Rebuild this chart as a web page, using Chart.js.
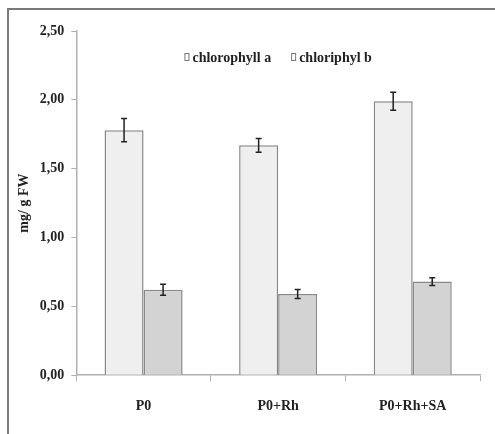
<!DOCTYPE html>
<html>
<head>
<meta charset="utf-8">
<script src="https://cdn.jsdelivr.net/npm/chart.js@4"></script>
<style>
  html, body { margin: 0; padding: 0; background: #fff; }
  #wrap { position: relative; width: 495px; height: 434px; }
</style>
</head>
<body>
<div id="wrap"><canvas id="chart" width="495" height="434"></canvas></div>
<script>
const categories = ["P0", "P0+Rh", "P0+Rh+SA"];
const seriesNames = ["chlorophyll a", "chloriphyl b"];
const chlA = [1.78, 1.67, 1.99];
const chlB = [0.62, 0.59, 0.68];
const errA = [0.085, 0.05, 0.065];
const errB = [0.04, 0.033, 0.028];
const yTicks = [0, 0.5, 1, 1.5, 2, 2.5];

const FONT = "'Liberation Serif', 'Times New Roman', serif";
const $ = (s) => document.querySelector(s);

// thin frame like the scanned figure (top + left edge only)
const framePlugin = {
  id: "frame",
  beforeDraw(chart) {
    const ctx = chart.ctx;
    ctx.save();
    ctx.strokeStyle = "#7a7a7a";
    ctx.lineWidth = 2;
    ctx.beginPath();
    ctx.moveTo(8, 434);
    ctx.lineTo(8, 9);
    ctx.lineTo(495, 9);
    ctx.stroke();
    ctx.restore();
  }
};

// error bars drawn from the y scale
const errorBarPlugin = {
  id: "errbars",
  afterDatasetsDraw(chart) {
    const ctx = chart.ctx;
    const y = chart.scales.y;
    const errs = [errA, errB];
    ctx.save();
    ctx.strokeStyle = "#222";
    ctx.lineWidth = 1.5;
    chart.data.datasets.forEach((ds, di) => {
      chart.getDatasetMeta(di).data.forEach((bar, i) => {
        const v = ds.data[i], e = errs[di][i];
        const top = y.getPixelForValue(v + e);
        const bot = y.getPixelForValue(v - e);
        const x = bar.x;
        ctx.beginPath();
        ctx.moveTo(x, top); ctx.lineTo(x, bot);
        ctx.moveTo(x - 3, top); ctx.lineTo(x + 3, top);
        ctx.moveTo(x - 3, bot); ctx.lineTo(x + 3, bot);
        ctx.stroke();
      });
    });
    ctx.restore();
  }
};

// legend sits inside the plot area, near the top
const insideLegend = {
  id: "insideLegend",
  afterDraw(chart) {
    const ctx = chart.ctx;
    const ca = chart.chartArea;
    ctx.save();
    ctx.font = "bold 14px " + FONT;
    ctx.textBaseline = "middle";
    const gap = 20, box = 5, boxGap = 3;
    const items = chart.data.datasets.map((d) => ({ label: d.label, fill: d.backgroundColor }));
    const widths = items.map((it) => box + boxGap + ctx.measureText(it.label).width);
    const total = widths.reduce((a, b) => a + b, 0) + gap * (items.length - 1);
    let x = (ca.left + ca.right) / 2 - total / 2;
    const yy = 57;
    items.forEach((it, i) => {
      ctx.fillStyle = "#fff";
      ctx.strokeStyle = "#777";
      ctx.lineWidth = 1;
      ctx.fillRect(x, yy - 4, box, 8);
      ctx.strokeRect(x + 0.5, yy - 3.5, box - 1, 7);
      ctx.fillStyle = "#222";
      ctx.fillText(it.label, x + box + boxGap, yy + 1);
      x += widths[i] + gap;
    });
    ctx.restore();
  }
};

new Chart($("#chart"), {
  type: "bar",
  data: {
    labels: categories,
    datasets: [
      { label: seriesNames[0], data: chlA, backgroundColor: "#efefef", borderColor: "#888", borderWidth: 1.5 },
      { label: seriesNames[1], data: chlB, backgroundColor: "#d3d3d3", borderColor: "#888", borderWidth: 1.5 }
    ]
  },
  options: {
    responsive: false,
    animation: false,
    categoryPercentage: 0.58,
    barPercentage: 1,
    layout: { padding: { top: 31, right: 15, bottom: 2, left: 16 } },
    plugins: {
      legend: { display: false },
      tooltip: { enabled: false }
    },
    scales: {
      x: {
        offset: true,
        border: { color: "#b0b0b0", width: 1.5 },
        grid: { display: true, drawOnChartArea: false, drawTicks: true, tickLength: 6, color: "#b0b0b0", offset: true },
        ticks: { color: "#222", padding: 17, font: { family: FONT, size: 14, weight: "bold" } }
      },
      y: {
        min: 0,
        max: 2.5,
        afterBuildTicks: (axis) => { axis.ticks = yTicks.map((v) => ({ value: v })); },
        border: { color: "#b0b0b0", width: 1.5 },
        grid: { display: true, drawOnChartArea: false, drawTicks: true, tickLength: 5, color: "#b0b0b0" },
        ticks: {
          color: "#222",
          padding: 7,
          font: { family: FONT, size: 14, weight: "bold" },
          callback: (v) => Number(v).toFixed(2).replace(".", ",")
        },
        title: {
          display: true,
          text: "mg/ g FW",
          color: "#222",
          padding: { top: 0, bottom: 0 },
          font: { family: FONT, size: 14, weight: "bold" }
        }
      }
    }
  },
  plugins: [framePlugin, errorBarPlugin, insideLegend]
});
</script>
</body>
</html>
